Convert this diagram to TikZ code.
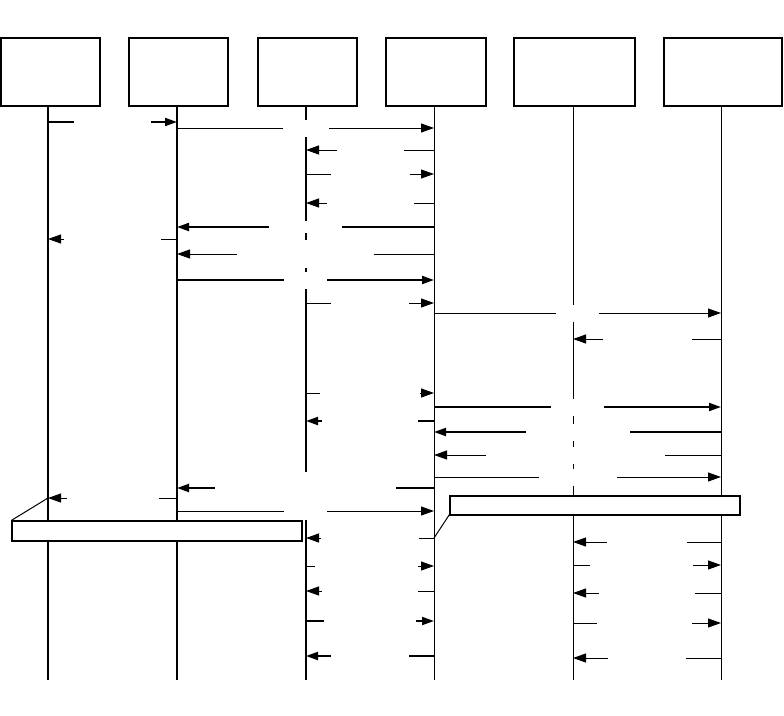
\documentclass[tikz,border=0pt]{standalone}
\usepackage{tikz}
\usetikzlibrary{arrows.meta,calc,positioning}

\tikzset{
  head/.style={draw, line width=1.2pt, fill=white, minimum height=68pt, inner sep=0pt},
  life/.style={line width=1pt},
  lifebold/.style={line width=2pt},
  msg/.style={-{Triangle[length=13pt 0 0,width=9pt 0 0]}, line width=1pt},
  msgbold/.style={-{Triangle[length=12pt 0 0,width=8pt 0 0]}, line width=2pt},
  gap/.style={fill=white, inner sep=0pt, minimum height=17pt},
  note/.style={draw, line width=1.2pt, fill=white, inner sep=0pt}
}

\begin{document}
\begin{tikzpicture}[x=1pt, y=-1pt]
        \useasboundingbox (0,0) rectangle (784,715);

        \coordinate (t1) at (48, 106);
        \coordinate (t2) at (177, 106);
        \coordinate (t3) at (306, 106);
        \coordinate (t4) at (434, 106);
        \coordinate (t5) at (573, 106);
        \coordinate (t6) at (721, 106);
        \coordinate (b1) at (48, 680);
        \coordinate (b2) at (177, 680);
        \coordinate (b3) at (306, 680);
        \coordinate (b4) at (434, 680);
        \coordinate (b5) at (573, 680);
        \coordinate (b6) at (721, 680);

        \node[head, minimum width=99pt] (h1) at (50.5, 72) {};
        \node[head, minimum width=99pt] (h2) at (178.5, 72) {};
        \node[head, minimum width=99pt] (h3) at (307.5, 72) {};
        \node[head, minimum width=100pt] (h4) at (436, 72) {};
        \node[head, minimum width=121pt] (h5) at (574.5, 72) {};
        \node[head, minimum width=118pt] (h6) at (723, 72) {};

        \draw[lifebold] (t1) -- (b1);
        \draw[life, line width=1.3pt] (t2) -- (b2);
        \draw[lifebold] (t3) -- (b3);
        \draw[life] (t4) -- (b4);
        \draw[life] (t5) -- (b5);
        \draw[life] (t6) -- (b6);

        \draw[msgbold] (t1 |- 0,122) -- node[gap, minimum width=77pt] {} (t2 |- 0,122);
        \draw[msg] (t2 |- 0,128) -- node[gap, minimum width=46pt] {} (t4 |- 0,128);
        \draw[msg] (t4 |- 0,150) -- node[gap, minimum width=67pt] {} (t3 |- 0,150);
        \draw[msg] (t3 |- 0,174) -- node[gap, minimum width=79pt] {} (t4 |- 0,174);
        \draw[msg] (t4 |- 0,203) -- node[gap, minimum width=87pt] {} (t3 |- 0,203);
        \draw[msgbold] (t4 |- 0,227) -- node[gap, minimum width=73pt, minimum height=12pt] {} (t2 |- 0,227);
        \draw[msg] (t2 |- 0,239) -- node[gap, minimum width=97pt] {} (t1 |- 0,239);
        \draw[msg] (t4 |- 0,254) -- node[gap, minimum width=137pt, minimum height=28pt] {} (t2 |- 0,254);
        \draw[msgbold] (t2 |- 0,280) -- node[gap, minimum width=43pt] {} (t4 |- 0,280);
        \draw[msg] (t3 |- 0,303) -- node[gap, minimum width=78pt] {} (t4 |- 0,303);
        \draw[msg] (t4 |- 0,313) -- node[gap, minimum width=43pt] {} (t6 |- 0,313);
        \draw[msg] (t6 |- 0,339) -- node[gap, minimum width=89pt] {} (t5 |- 0,339);
        \draw[msg] (t3 |- 0,393) -- node[gap, minimum width=100pt] {} (t4 |- 0,393);
        \draw[msgbold] (t4 |- 0,407) -- node[gap, minimum width=53pt] {} (t6 |- 0,407);
        \draw[msgbold] (t4 |- 0,421) -- node[gap, minimum width=96pt] {} (t3 |- 0,421);
        \draw[msgbold] (t6 |- 0,432) -- node[gap, minimum width=104pt] {} (t4 |- 0,432);
        \draw[msg] (t6 |- 0,455) -- node[gap, minimum width=179pt, xshift=-2pt] {} (t4 |- 0,455);
        \draw[msg] (t4 |- 0,477) -- node[gap, minimum width=78pt] {} (t6 |- 0,477);
        \draw[msgbold] (t4 |- 0,488) -- node[gap, minimum width=181pt, minimum height=32pt] {} (t2 |- 0,488);
        \draw[msg] (t2 |- 0,498) -- node[gap, minimum width=92pt] {} (t1 |- 0,498);
        \draw[msg] (t2 |- 0,511) -- node[gap, minimum width=43pt] {} (t4 |- 0,511);
        \draw[msg] (t4 |- 0,538) -- node[gap, minimum width=98pt] {} (t3 |- 0,538);
        \draw[msg] (t6 |- 0,542) -- node[gap, minimum width=80pt] {} (t5 |- 0,542);
        \draw[msg] (t3 |- 0,566) -- node[gap, minimum width=103pt, xshift=-4pt] {} (t4 |- 0,566);
        \draw[msg] (t5 |- 0,565) -- node[gap, minimum width=103pt, xshift=-6pt] {} (t6 |- 0,565);
        \draw[msg] (t4 |- 0,591) -- node[gap, minimum width=96pt] {} (t3 |- 0,591);
        \draw[msg] (t6 |- 0,593) -- node[gap, minimum width=96pt] {} (t5 |- 0,593);
        \draw[msgbold] (t3 |- 0,621) -- node[gap, minimum width=92pt] {} (t4 |- 0,621);
        \draw[msg] (t5 |- 0,623) -- node[gap, minimum width=95pt, xshift=-3pt] {} (t6 |- 0,623);
        \draw[msgbold] (t4 |- 0,656) -- node[gap, minimum width=78pt] {} (t3 |- 0,656);
        \draw[msg] (t6 |- 0,658) -- node[gap, minimum width=78pt] {} (t5 |- 0,658);

        % notes
        \node[note, minimum width=290pt, minimum height=20pt] (n1) at (157, 531) {};
        \node[note, minimum width=290pt, minimum height=19pt] (n2) at (595, 505.5) {};
        \draw[line width=1pt] (n1.north west) -- (t1 |- 0,498);
        \draw[line width=1pt] ($(n2.south west)+(0,-1)$) -- (t4 |- 0,538);
    \end{tikzpicture}
\end{document}
